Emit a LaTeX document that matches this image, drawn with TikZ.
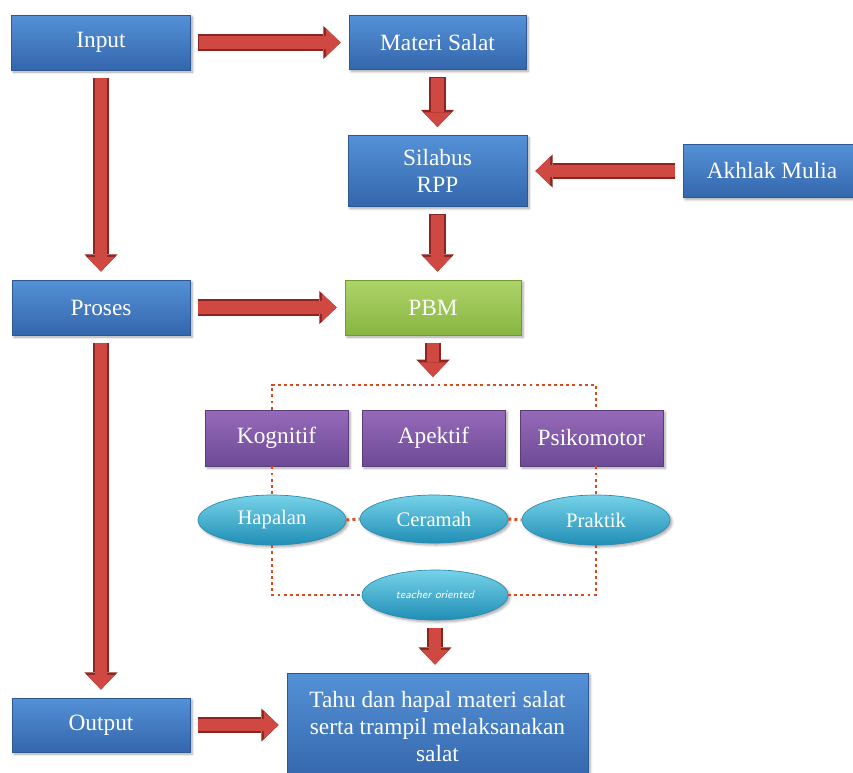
\documentclass[tikz,border=0pt]{standalone}
\usepackage{fontspec}
\setmainfont{Liberation Serif}
\newfontfamily\diagfont{Liberation Serif}
\usetikzlibrary{shapes}
\usetikzlibrary{shapes.geometric}
\usetikzlibrary{shadows.blur}
\usetikzlibrary{arrows.meta}

\tikzset{
  boxtext/.style={text=white, font=\diagfont\fontsize{17.5}{20.5}\selectfont, align=center, inner sep=0.75pt},
  softshadow/.style={blur shadow={shadow xshift=1.5pt, shadow yshift=-1.5pt, shadow blur steps=6, shadow opacity=35}},
  bluebox/.style={rectangle, boxtext, softshadow, draw={rgb, 255:red, 46; green, 88; blue, 148}, line width=0.6pt,
    top color={rgb, 255:red, 84; green, 145; blue, 214}, bottom color={rgb, 255:red, 52; green, 102; blue, 172}},
  greenbox/.style={rectangle, boxtext, softshadow, draw={rgb, 255:red, 112; green, 152; blue, 52}, line width=0.6pt,
    top color={rgb, 255:red, 174; green, 212; blue, 104}, bottom color={rgb, 255:red, 136; green, 182; blue, 66}},
  purplebox/.style={rectangle, boxtext, softshadow, draw={rgb, 255:red, 90; green, 60; blue, 122}, line width=0.6pt,
    top color={rgb, 255:red, 150; green, 106; blue, 186}, bottom color={rgb, 255:red, 108; green, 74; blue, 150}},
  cyanoval/.style={ellipse, softshadow, text=white, font=\diagfont\fontsize{15.5}{18}\selectfont, inner sep=0pt,
    draw={rgb, 255:red, 40; green, 140; blue, 176}, line width=0.5pt,
    top color={rgb, 255:red, 118; green, 210; blue, 232}, bottom color={rgb, 255:red, 32; green, 142; blue, 182}},
  bigarrow/.style={draw={rgb, 255:red, 208; green, 72; blue, 66}, line width=9.5pt,
    -{Triangle[width=21pt, length=11pt, line width=0pt]}, shorten <=6pt, shorten >=6pt,
    preaction={draw={rgb, 255:red, 140; green, 36; blue, 32}, line width=12.5pt,
      -{Triangle[width=25pt, length=13pt, line width=0pt]}, shorten <=5.5pt, shorten >=6pt}},
  dotline/.style={draw={rgb, 255:red, 214; green, 76; blue, 30}, line width=2.2pt, dash pattern=on 2.2pt off 2.4pt}
}

\begin{document}
\begin{tikzpicture}[x=0.75pt,y=0.75pt,yscale=-1,xscale=1]
\useasboundingbox (0,0) rectangle (853,772);

% Left column
\node [bluebox, minimum width=134.25pt, minimum height=41.25pt] (inp) at (101,42.5) {Input};
\node [bluebox, minimum width=133.5pt, minimum height=41.25pt] (proses) at (101,307.5) {Proses};
\node [bluebox, minimum width=133.5pt, minimum height=40.5pt] (output) at (101,725) {Output};

% Middle column
\node [bluebox, minimum width=132.75pt, minimum height=40.5pt] (materi) at (437.5,42.5) {Materi Salat};
\node [bluebox, minimum width=134.25pt, minimum height=53.25pt] (silabus) at (437.5,171) {Silabus\\RPP};
\node [bluebox, minimum width=133.5pt, minimum height=39.75pt] (akhlak) at (772,171) {Akhlak Mulia};
\node [greenbox, minimum width=132pt, minimum height=41.25pt] (pbm) at (433,307.5) {PBM};

% Text Node
\node [purplebox, minimum width=107.25pt, minimum height=42pt] (kog) at (276.5,438) {Kognitif};
\node [purplebox, minimum width=107.25pt, minimum height=42pt] (apek) at (433.5,438) {Apektif};
\node [purplebox, minimum width=107.25pt, minimum height=42pt] (psiko) at (591.5,438) {Psikomotor};

% Text Node
\node [cyanoval, minimum width=111pt, minimum height=37.5pt] (hap) at (272,520) {Hapalan};
\node [cyanoval, minimum width=111pt, minimum height=36pt] (cer) at (434,519) {Ceramah};
\node [cyanoval, minimum width=111pt, minimum height=37.5pt] (prak) at (596,520) {Praktik};
\node [cyanoval, minimum width=109.5pt, minimum height=37.5pt, font=\fontsize{8.5}{10}\sffamily\itshape] (tea) at (435,595) {teacher oriented};

\node [bluebox, minimum width=225.75pt, minimum height=80.25pt] (tahu) at (437.5,726.5) {Tahu dan hapal materi salat\\serta trampil melaksanakan\\salat};

% dotted frame
\coordinate (brk) at (433,385);
\draw [dotline] (kog.north -| hap.north) |- (brk) -| (psiko.north -| prak.north);
\draw [dotline] (hap.north |- kog.south) -- (hap.north);
\draw [dotline] (prak.north |- psiko.south) -- (prak.north);
\draw [dotline] (hap.east) -- (cer.west);
\draw [dotline] (cer.east) -- (prak.west);
\draw [dotline] (hap.south) |- (tea.west);
\draw [dotline] (prak.south) |- (tea.east);

% Arrows
\draw [bigarrow] (inp) -- (materi);
\draw [bigarrow] (materi) -- (silabus);
\draw [bigarrow] (akhlak) -- (silabus);
\draw [bigarrow] (silabus.south) -- (silabus.south |- pbm.north);
\draw [bigarrow] (inp) -- (proses);
\draw [bigarrow] (proses) -- (pbm);
\draw [bigarrow] (pbm.south) -- (brk);
\draw [bigarrow] (proses) -- (output);
\draw [bigarrow] (output.east) -- (output.east -| tahu.west);
\draw [bigarrow] (tea.south) -- (tea.south |- tahu.north);

\end{tikzpicture}
\end{document}
